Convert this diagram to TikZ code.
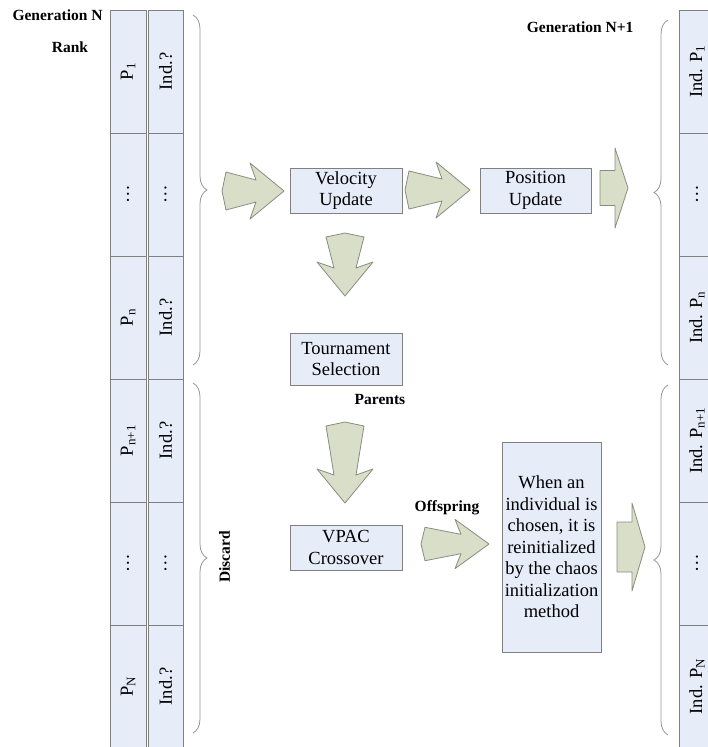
\documentclass[tikz,border=0pt]{standalone}
\usepackage{fontspec}
\setmainfont{Liberation Serif}
\usetikzlibrary{decorations.pathreplacing}

\definecolor{boxfill}{RGB}{230,237,249}
\definecolor{boxline}{RGB}{128,128,128}
\definecolor{arrfill}{RGB}{216,222,200}
\definecolor{arrline}{RGB}{138,140,128}
\definecolor{bracecol}{RGB}{150,150,150}

\begin{document}
\begin{tikzpicture}[
      x=1pt, y=-1pt,
      blk/.style={draw=boxline, fill=boxfill, line width=0.8pt, align=center,
                  inner sep=2pt, font=\fontsize{18.5}{21.5}\selectfont},
      cell/.style={blk, rotate=90, minimum width=123, minimum height=35},
      lbl/.style={font=\fontsize{15.5}{18}\selectfont\bfseries},
      brc/.style={draw=bracecol, line width=0.8pt, decorate,
                  decoration={brace, amplitude=14pt}},
      fat/.style={draw=arrline, fill=arrfill, line width=0.8pt, line join=round},
      pics/fatarrow/.style={code={
          \draw[fat] (0,0) -- (4,-19) -- ({#1-28},-11) -- ({#1-34},-28) -- (#1,0)
                     -- ({#1-34},28) -- ({#1-28},11) -- (4,19) -- cycle;}},
      pics/boxarrow/.style 2 args={code={
          \draw[fat] (0,-#1) -- (15,-#1) -- (15,-#2) -- (28,0) -- (15,#2)
                     -- (15,#1) -- (0,#1) -- cycle;}}]

    \useasboundingbox (0,0) rectangle (708,747);
    \clip (0,0) rectangle (708,747);

    % ============================================
    % Generation N (ranked)
    % ============================================
    \node[lbl, anchor=west] (genN) at (9,15) {Generation N};
    \node[lbl] (rank) at (70,47) {Rank};

    \foreach \lab [count=\i] in {P\textsubscript{1}, \dots, P\textsubscript{n},
                                 P\textsubscript{n+1}, \dots, P\textsubscript{N}} {
        \node[cell, minimum height=36] (p\i) at (128, {10+123*(\i-0.5)}) {\lab};
    }
    \foreach \lab [count=\i] in {Ind.?, \dots, Ind.?, Ind.?, \dots, Ind.?} {
        \node[cell] (q\i) at (165.5, {10+123*(\i-0.5)}) {\lab};
    }

    \draw[brc] (193,15) -- (193,365);
    \draw[brc] (193,383) -- (193,733);
    \node[lbl, rotate=90] (discard) at (224.5,557) {Discard};

    % ============================================
    % PSO branch
    % ============================================
    \node[blk, minimum width=112, minimum height=45] (vel) at (346,190.5) {Velocity\\Update};
    \node[blk, minimum width=111, minimum height=45] (pos) at (535.5,190.5) {Position\\Update};

    \pic at (222,191) {fatarrow=62};
    \pic at (405,190) {fatarrow=65};
    \pic at (600,188) {boxarrow={17.5}{40}};
    \pic[rotate=-90] at (345,233) {fatarrow=63};

    % ============================================
    % GA branch
    % ============================================
    \node[blk, minimum width=112, minimum height=52] (tour) at (346,359) {Tournament\\Selection};
    \node[lbl] (parents) at (380,399) {Parents};
    \pic[rotate=-90] at (345,422) {fatarrow=81};

    \node[blk, minimum width=112, minimum height=45] (vpac) at (346,547.5) {VPAC\\Crossover};
    \node[lbl] (offspr) at (447,508) {Offspring};
    \pic[yscale=0.88] at (421,544) {fatarrow=68};

    \node[blk, minimum width=99, minimum height=210] (chaos) at (551.5,547)
        {When an\\individual is\\chosen, it is\\reinitialized\\by the chaos\\initialization\\method};
    \pic at (617,547) {boxarrow={25}{44}};

    % ============================================
    % Generation N+1
    % ============================================
    \node[lbl, anchor=east] (genN1) at (637,27) {Generation N+1};

    \draw[brc] (668,365) -- (668,20);
    \draw[brc] (668,735) -- (668,385);

    \foreach \lab [count=\i] in {Ind. P\textsubscript{1}, \dots, Ind. P\textsubscript{n},
                                 Ind. P\textsubscript{n+1}, \dots, Ind. P\textsubscript{N}} {
        \node[cell, minimum height=36] (n\i) at (697, {10+123*(\i-0.5)}) {\lab};
    }

\end{tikzpicture}
\end{document}
